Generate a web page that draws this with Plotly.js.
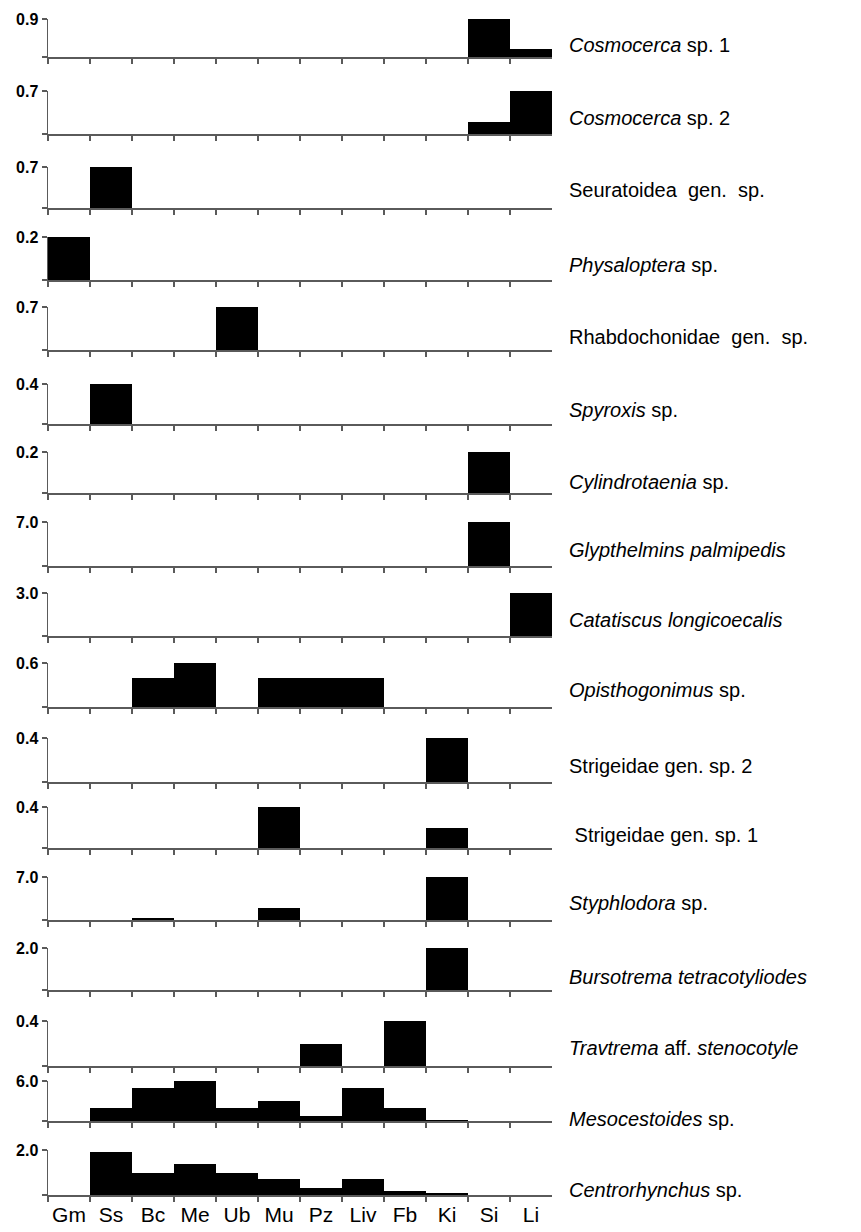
<!DOCTYPE html>
<html>
<head>
<meta charset="utf-8">
<script src="https://cdn.plot.ly/plotly-3.0.1.min.js"></script>
<style>html,body{margin:0;padding:0;background:#fff;}#chart{width:861px;height:1232px;}</style>
</head>
<body>
<div id="chart"></div>
<script>
// ---- data ----
const categories = ["Gm","Ss","Bc","Me","Ub","Mu","Pz","Liv","Fb","Ki","Si","Li"];
const speciesLabels = [
  "<i>Cosmocerca</i> sp. 1",
  "<i>Cosmocerca</i> sp. 2",
  "Seuratoidea  gen.  sp.",
  "<i>Physaloptera</i> sp.",
  "Rhabdochonidae  gen.  sp.",
  "<i>Spyroxis</i> sp.",
  "<i>Cylindrotaenia</i> sp.",
  "<i>Glypthelmins palmipedis</i>",
  "<i>Catatiscus longicoecalis</i>",
  "<i>Opisthogonimus</i> sp.",
  "Strigeidae gen. sp. 2",
  " Strigeidae gen. sp. 1",
  "<i>Styphlodora</i> sp.",
  "<i>Bursotrema tetracotyliodes</i>",
  "<i>Travtrema</i> aff. <i>stenocotyle</i>",
  "<i>Mesocestoides</i> sp.",
  "<i>Centrorhynchus</i> sp."
];
const axisMax    = [0.9, 0.7, 0.7, 0.2, 0.7, 0.4, 0.2, 7.0, 3.0, 0.6, 0.4, 0.4, 7.0, 2.0, 0.4, 6.0, 2.0];
const axisLabels = ["0.9","0.7","0.7","0.2","0.7","0.4","0.2","7.0","3.0","0.6","0.4","0.4","7.0","2.0","0.4","6.0","2.0"];

const cosmocerca1     = [0, 0, 0, 0, 0, 0, 0, 0, 0, 0, 0.9, 0.2];
const cosmocerca2     = [0, 0, 0, 0, 0, 0, 0, 0, 0, 0, 0.2, 0.7];
const seuratoidea     = [0, 0.7, 0, 0, 0, 0, 0, 0, 0, 0, 0, 0];
const physaloptera    = [0.2, 0, 0, 0, 0, 0, 0, 0, 0, 0, 0, 0];
const rhabdochonidae  = [0, 0, 0, 0, 0.7, 0, 0, 0, 0, 0, 0, 0];
const spyroxis        = [0, 0.4, 0, 0, 0, 0, 0, 0, 0, 0, 0, 0];
const cylindrotaenia  = [0, 0, 0, 0, 0, 0, 0, 0, 0, 0, 0.2, 0];
const glypthelmins    = [0, 0, 0, 0, 0, 0, 0, 0, 0, 0, 7.0, 0];
const catatiscus      = [0, 0, 0, 0, 0, 0, 0, 0, 0, 0, 0, 3.0];
const opisthogonimus  = [0, 0, 0.4, 0.6, 0, 0.4, 0.4, 0.4, 0, 0, 0, 0];
const strigeidae2     = [0, 0, 0, 0, 0, 0, 0, 0, 0, 0.4, 0, 0];
const strigeidae1     = [0, 0, 0, 0, 0, 0.4, 0, 0, 0, 0.2, 0, 0];
const styphlodora     = [0, 0, 0.4, 0, 0, 2.0, 0, 0, 0, 7.0, 0, 0];
const bursotrema      = [0, 0, 0, 0, 0, 0, 0, 0, 0, 2.0, 0, 0];
const travtrema       = [0, 0, 0, 0, 0, 0, 0.2, 0, 0.4, 0, 0, 0];
const mesocestoides   = [0, 2.0, 5.0, 6.0, 2.0, 3.0, 0.7, 5.0, 2.0, 0.2, 0, 0];
const centrorhynchus  = [0, 1.9, 1.0, 1.4, 1.0, 0.7, 0.3, 0.7, 0.2, 0.1, 0, 0];

const seriesList = [cosmocerca1, cosmocerca2, seuratoidea, physaloptera, rhabdochonidae,
  spyroxis, cylindrotaenia, glypthelmins, catatiscus, opisthogonimus, strigeidae2,
  strigeidae1, styphlodora, bursotrema, travtrema, mesocestoides, centrorhynchus];

// ---- layout geometry (pixels) ----
const W = 861, H = 1232;
const panelTop  = [19, 91, 167, 237, 307, 384, 452, 522, 593, 663, 738, 807, 877, 948, 1021, 1081, 1150];
const panelBase = [57, 134, 208, 280, 350, 424, 493, 566, 636, 707, 782, 848, 920, 990, 1066, 1121, 1195];
const labelY    = [45, 118, 190, 265, 337, 410, 482, 550, 620, 690, 766, 835, 903, 977, 1048, 1119, 1190];
const xLeft = 48, xRight = 552, labelX = 567;

const traces = [];
const layout = {
  width: W, height: H,
  margin: {l: 0, r: 0, t: 0, b: 0},
  paper_bgcolor: "#fff", plot_bgcolor: "rgba(0,0,0,0)",
  showlegend: false, bargap: 0,
  font: {family: "Liberation Sans, Arial, sans-serif", color: "#000"},
  annotations: []
};
const n = seriesList.length;
const axisColor = "#5a5a5a";
for (let i = 0; i < n; i++) {
  const k = i === 0 ? "" : String(i + 1);
  traces.push({
    type: "bar", x: categories, y: seriesList[i],
    xaxis: "x" + k, yaxis: "y" + k,
    marker: {color: "#000", line: {width: 0}},
    hoverinfo: "x+y"
  });
  const last = i === n - 1;
  layout["xaxis" + k] = {
    type: "category", domain: [xLeft / W, xRight / W], anchor: "y" + k,
    range: [-0.5, 11.5], tickson: "boundaries", tickangle: 0,
    ticks: "outside", ticklen: 5, tickwidth: 1.5, tickcolor: axisColor,
    showline: true, linecolor: axisColor, linewidth: 1.5,
    showgrid: false, zeroline: false, fixedrange: true,
    showticklabels: last,
    tickfont: {size: 21, family: "Liberation Sans, Arial, sans-serif", color: "#000"}
  };
  layout["yaxis" + k] = {
    domain: [1 - panelBase[i] / H, 1 - panelTop[i] / H], anchor: "x" + k,
    range: [0, axisMax[i]],
    tickmode: "array", tickvals: [0, axisMax[i]], ticktext: ["", "<b>" + axisLabels[i] + "</b>"],
    ticks: "outside", ticklen: 5, tickwidth: 1.5, tickcolor: axisColor,
    showline: true, linecolor: axisColor, linewidth: 1.5,
    showgrid: false, zeroline: false, fixedrange: true,
    tickfont: {size: 16, family: "Liberation Sans, Arial, sans-serif", color: "#000"}
  };
  layout.annotations.push({
    xref: "paper", yref: "paper",
    x: labelX / W, y: 1 - labelY[i] / H,
    xanchor: "left", yanchor: "middle", showarrow: false,
    text: speciesLabels[i],
    font: {size: 20, family: "Liberation Sans, Arial, sans-serif", color: "#000"}
  });
}
Plotly.newPlot("chart", traces, layout, {displayModeBar: false, staticPlot: true});
</script>
</body>
</html>
